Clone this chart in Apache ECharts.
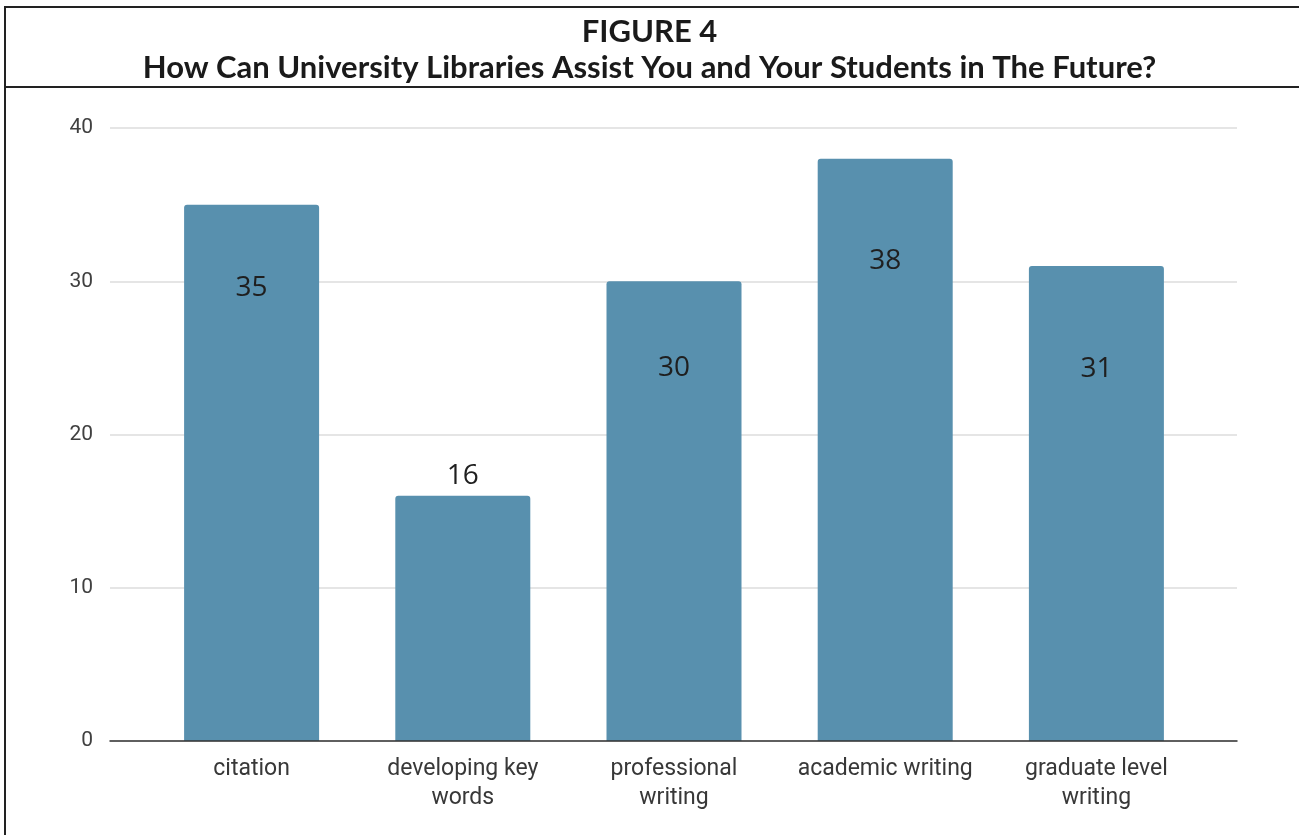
<!DOCTYPE html>
<html>
<head>
<meta charset="utf-8">
<title>Figure 4</title>
<script src="https://cdn.jsdelivr.net/npm/echarts@6/dist/echarts.min.js"></script>
<style>
  html, body { margin: 0; padding: 0; background: #ffffff; }
  #chart { width: 1299px; height: 835px; }
</style>
</head>
<body>
<div id="chart"></div>
<script>
// Survey answers: how university libraries could help faculty and students
const categories = [
  'citation',
  'developing key\nwords',
  'professional\nwriting',
  'academic writing',
  'graduate level\nwriting'
];
const responses = [35, 16, 30, 38, 31];
const yTicks = [0, 10, 20, 30, 40];

const figureLabel = 'FIGURE 4';
const figureTitle = 'How Can University Libraries Assist You and Your Students in The Future?';

const barColor = '#5890ae';
const yMin = yTicks[0];
const yMax = yTicks[yTicks.length - 1];
const yStep = yTicks[1] - yTicks[0];

// Value labels sit inside the bar top, except for short bars where they go above
function valueLabel(v, i) {
  const insideOffsets = { 0: 69, 2: 73, 3: 88, 4: 89 };
  if (v < 20) {
    return { position: 'top', distance: 6 };
  }
  return { position: 'insideTop', distance: insideOffsets[i] !== undefined ? insideOffsets[i] : 70 };
}

const barData = responses.map((v, i) => ({ value: v, label: valueLabel(v, i) }));

const chart = echarts.init(document.getElementById('chart'), null, { renderer: 'canvas' });

chart.setOption({
  animation: false,
  backgroundColor: '#ffffff',
  title: [
    {
      text: figureLabel,
      left: 'center',
      top: 11,
      textStyle: { fontFamily: 'Lato', fontWeight: 'bold', fontSize: 31, color: '#1a1a1a' }
    },
    {
      text: figureTitle,
      left: 'center',
      top: 47,
      textStyle: { fontFamily: 'Lato', fontWeight: 'bold', fontSize: 31, color: '#1a1a1a' }
    }
  ],
  graphic: [
    {
      type: 'rect',
      shape: { x: 5, y: 7, width: 1300, height: 840 },
      style: { fill: 'none', stroke: '#222222', lineWidth: 2 },
      silent: true
    },
    {
      type: 'line',
      shape: { x1: 5, y1: 87, x2: 1299, y2: 87 },
      style: { stroke: '#222222', lineWidth: 2 },
      silent: true
    }
  ],
  grid: [
    // gridlines and value axis span the full plot width
    { left: 110, right: 62, top: 128, bottom: 94 },
    // bars sit in a narrower band inside it
    { left: 146, right: 97, top: 128, bottom: 94 }
  ],
  xAxis: [
    {
      gridIndex: 0,
      type: 'value',
      min: 0,
      max: 1,
      z: 10,
      axisLine: { show: true, lineStyle: { color: '#333333', width: 1.5 } },
      axisTick: { show: false },
      axisLabel: { show: false },
      splitLine: { show: false }
    },
    {
      gridIndex: 1,
      type: 'category',
      data: categories,
      axisLine: { show: false },
      axisTick: { show: false },
      axisLabel: {
        interval: 0,
        margin: 14,
        fontFamily: 'Roboto',
        fontSize: 23,
        lineHeight: 29,
        color: '#383838'
      }
    }
  ],
  yAxis: [
    {
      gridIndex: 0,
      type: 'value',
      min: yMin,
      max: yMax,
      interval: yStep,
      axisLine: { show: false },
      axisTick: { show: false },
      axisLabel: {
        margin: 17,
        fontFamily: 'Roboto',
        fontSize: 21,
        color: '#404040'
      },
      splitLine: { show: true, lineStyle: { color: '#dddddd', width: 1.5 } }
    },
    {
      gridIndex: 1,
      type: 'value',
      min: yMin,
      max: yMax,
      interval: yStep,
      show: false,
      splitLine: { show: false }
    }
  ],
  series: [
    {
      type: 'bar',
      xAxisIndex: 1,
      yAxisIndex: 1,
      data: barData,
      barWidth: 135,
      itemStyle: { color: barColor, borderRadius: [3, 3, 0, 0] },
      label: {
        show: true,
        fontFamily: 'Open Sans',
        fontSize: 28,
        lineHeight: 28,
        color: '#1f1f1f'
      }
    }
  ]
});
</script>
</body>
</html>
